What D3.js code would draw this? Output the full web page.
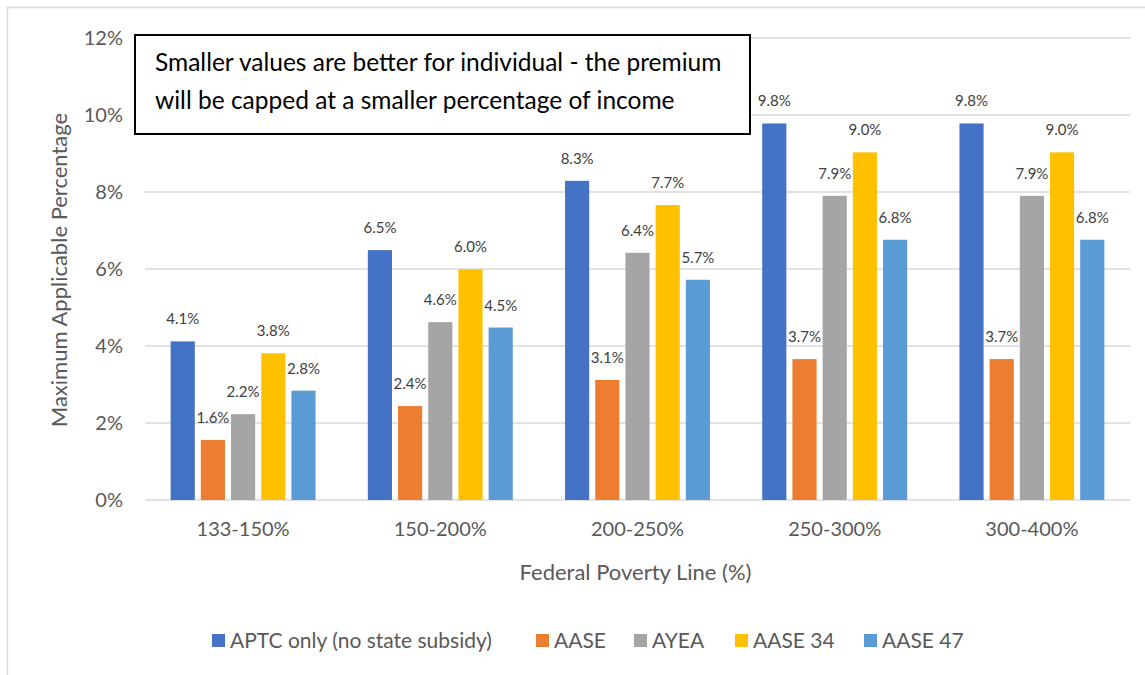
<!DOCTYPE html>
<html>
<head>
<meta charset="utf-8">
<script src="https://cdn.jsdelivr.net/npm/d3@7"></script>
<style>
  body { margin: 0; background: #fff; }
  text { font-family: Lato, "Open Sans", sans-serif; }
</style>
</head>
<body>
<svg id="mainsvg" width="1145" height="675"></svg>
<script>
const categories = ["133-150%", "150-200%", "200-250%", "250-300%", "300-400%"];
const seriesNames = ["APTC only (no state subsidy)", "AASE", "AYEA", "AASE 34", "AASE 47"];
const colors = ["#4472C4", "#ED7D31", "#A5A5A5", "#FFC000", "#5B9BD5"];
// values per series (percent), one per category
const aptc   = [4.12, 6.49, 8.29, 9.78, 9.78];
const aase   = [1.56, 2.44, 3.12, 3.66, 3.66];
const ayea   = [2.23, 4.62, 6.42, 7.90, 7.90];
const aase34 = [3.81, 5.99, 7.66, 9.03, 9.03];
const aase47 = [2.84, 4.48, 5.72, 6.76, 6.76];
const seriesValues = [aptc, aase, ayea, aase34, aase47];
const yTicks = [0, 2, 4, 6, 8, 10, 12];

const svg = d3.select('#mainsvg');
const width = +svg.attr("width");
const height = +svg.attr("height");
const margin = { top: 38, left: 145 };
const innerWidth = 1130 - margin.left;
const innerHeight = 500 - margin.top;

// outer chart border: only left and top edges show in the picture
svg.append("path")
  .attr("d", `M7.5,${height} V7.5 H${width}`)
  .attr("fill", "none").attr("stroke", "#D9D9D9").attr("stroke-width", 1.5);

const xScale = d3.scaleBand()
  .domain(categories)
  .range([0, innerWidth])
  .paddingInner(0.265)
  .paddingOuter(0.13);

const xSub = d3.scaleBand()
  .domain(seriesNames)
  .range([0, xScale.bandwidth()])
  .paddingInner(0.2);

const yScale = d3.scaleLinear()
  .domain([0, 12])
  .range([innerHeight, 0]);

const g = svg.append('g')
  .attr("transform", `translate(${margin.left}, ${margin.top})`);

// gridlines
g.append("g")
  .selectAll("line")
  .data(yTicks)
  .join("line")
  .attr("x1", 0).attr("x2", innerWidth)
  .attr("y1", d => yScale(d)).attr("y2", d => yScale(d))
  .attr("stroke", "#D9D9D9").attr("stroke-width", 1.5);

// y axis labels
const yAxis = d3.axisLeft(yScale).tickValues(yTicks).tickFormat(d => d + "%").tickSize(0).tickPadding(22);
const yG = g.append("g").call(yAxis);
yG.select(".domain").remove();
yG.selectAll("text").attr("font-size", "20px").attr("fill", "#595959").style("font-family", "Lato, sans-serif");

// x axis labels
const xAxis = d3.axisBottom(xScale).tickSize(0).tickPadding(22);
const xG = g.append("g").attr("transform", `translate(0, ${innerHeight})`).call(xAxis);
xG.select(".domain").remove();
xG.selectAll("text").attr("font-size", "20px").attr("fill", "#595959").style("font-family", "Lato, sans-serif");

// bars
const groups = g.selectAll(".grp")
  .data(categories)
  .join("g")
  .attr("class", "grp")
  .attr("transform", d => `translate(${xScale(d)},0)`);

seriesNames.forEach((s, si) => {
  groups.append("rect")
    .attr("x", xSub(s))
    .attr("width", xSub.bandwidth())
    .attr("y", (d, ci) => yScale(seriesValues[si][ci]))
    .attr("height", (d, ci) => innerHeight - yScale(seriesValues[si][ci]))
    .attr("fill", colors[si]);

  groups.append("text")
    .attr("x", xSub(s) + xSub.bandwidth() / 2)
    .attr("y", (d, ci) => yScale(seriesValues[si][ci]) - 17)
    .attr("text-anchor", "middle")
    .attr("font-size", "15px")
    .attr("fill", "#404040")
    .text((d, ci) => seriesValues[si][ci].toFixed(1) + "%");
});

// axis titles
svg.append("text")
  .attr("x", margin.left + innerWidth / 2 - 2)
  .attr("y", 580)
  .attr("text-anchor", "middle")
  .attr("font-size", "22px")
  .attr("fill", "#595959")
  .text("Federal Poverty Line (%)");

svg.append("text")
  .attr("transform", `translate(67, 270) rotate(-90)`)
  .attr("text-anchor", "middle")
  .attr("font-size", "22px")
  .attr("fill", "#595959")
  .text("Maximum Applicable Percentage");

// annotation box
svg.append("rect")
  .attr("x", 135).attr("y", 35)
  .attr("width", 615).attr("height", 99)
  .attr("fill", "#fff").attr("stroke", "#000").attr("stroke-width", 2);
const note = svg.append("text").attr("font-size", "24.5px").attr("fill", "#000");
note.append("tspan").attr("x", 155).attr("y", 71).text("Smaller values are better for individual - the premium");
note.append("tspan").attr("x", 155).attr("y", 109).text("will be capped at a smaller percentage of income");

// legend
const legendX = [212, 536, 634, 735, 864];
const legend = svg.append("g");
seriesNames.forEach((s, i) => {
  legend.append("rect")
    .attr("x", legendX[i]).attr("y", 634)
    .attr("width", 13).attr("height", 13)
    .attr("fill", colors[i]);
  legend.append("text")
    .attr("x", legendX[i] + 18).attr("y", 648)
    .attr("font-size", "21px")
    .attr("fill", "#595959")
    .text(s);
});
</script>
</body>
</html>
